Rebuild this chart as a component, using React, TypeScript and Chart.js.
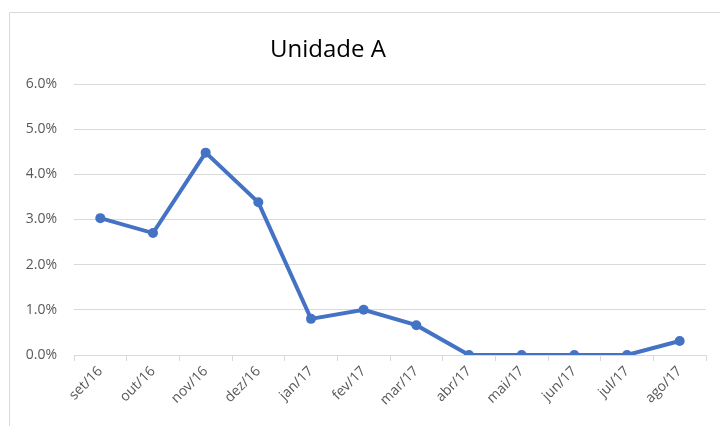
import React, { useEffect, useRef } from "react";
import { Chart, registerables } from "chart.js";

Chart.register(...registerables);

const TITLE = "Unidade A";
const categories = ["set/16", "out/16", "nov/16", "dez/16", "jan/17", "fev/17", "mar/17", "abr/17", "mai/17", "jun/17", "jul/17", "ago/17"];
const values = [3.03, 2.7, 4.48, 3.38, 0.8, 1.0, 0.66, 0, 0, 0, 0, 0.31];
const yMin = 0;
const yMax = 6;
const yStep = 1;

const FONT = "'Open Sans', 'Liberation Sans', sans-serif";

const framePlugin = {
  id: "frame",
  beforeDraw(chart: any) {
    const ctx = chart.ctx;
    ctx.save();
    ctx.fillStyle = "#ffffff";
    ctx.fillRect(0, 0, chart.width, chart.height);
    ctx.strokeStyle = "#d9d9d9";
    ctx.lineWidth = 1;
    ctx.beginPath();
    ctx.moveTo(9.5, chart.height);
    ctx.lineTo(9.5, 12.5);
    ctx.lineTo(chart.width, 12.5);
    ctx.stroke();
    ctx.restore();
  },
  afterDraw(chart: any) {
    const ctx = chart.ctx;
    ctx.save();
    ctx.fillStyle = "#000000";
    ctx.font = `24px ${FONT}`;
    ctx.textAlign = "center";
    ctx.textBaseline = "middle";
    ctx.fillText(TITLE, 328, 50);
    ctx.restore();
  },
};

export default function App() {
  const ref = useRef<HTMLCanvasElement>(null);
  useEffect(() => {
    if (!ref.current) return;
    const chart = new Chart(ref.current, {
      type: "line",
      data: {
        labels: categories,
        datasets: [
          {
            data: values,
            borderColor: "#4472C4",
            backgroundColor: "#4472C4",
            borderWidth: 4,
            pointRadius: 5,
            pointBorderWidth: 0,
            pointBackgroundColor: "#4472C4",
            tension: 0,
          },
        ],
      },
      options: {
        responsive: false,
        animation: false,
        layout: { padding: { left: 0, right: 14, top: 84, bottom: 0 } },
        plugins: {
          legend: { display: false },
          title: { display: false },
          tooltip: { enabled: false },
        },
        scales: {
          x: {
            offset: true,
            grid: {
              display: true,
              drawOnChartArea: false,
              drawTicks: true,
              tickLength: 6,
              color: "#d9d9d9",
              offset: true,
            },
            border: { display: true, color: "#d9d9d9", width: 1 },
            ticks: {
              color: "#595959",
              font: { family: FONT, size: 14 },
              minRotation: 45,
              maxRotation: 45,
              autoSkip: false,
              padding: 2,
            },
            afterFit(scale: any) {
              scale.height = 71;
            },
          },
          y: {
            min: yMin,
            max: yMax,
            grid: { color: "#d9d9d9", drawTicks: false, lineWidth: 1 },
            border: { display: false },
            ticks: {
              stepSize: yStep,
              color: "#595959",
              font: { family: FONT, size: 14 },
              padding: 17,
              callback: (v: any) => `${Number(v).toFixed(1)}%`,
            },
            afterFit(scale: any) {
              scale.width = 74;
            },
          },
        },
      },
      plugins: [framePlugin],
    });
    return () => chart.destroy();
  }, []);
  return (
    <div style={{ position: "absolute", left: 0, top: 0, width: 720, height: 426 }}>
      <canvas ref={ref} width={720} height={426} />
    </div>
  );
}
